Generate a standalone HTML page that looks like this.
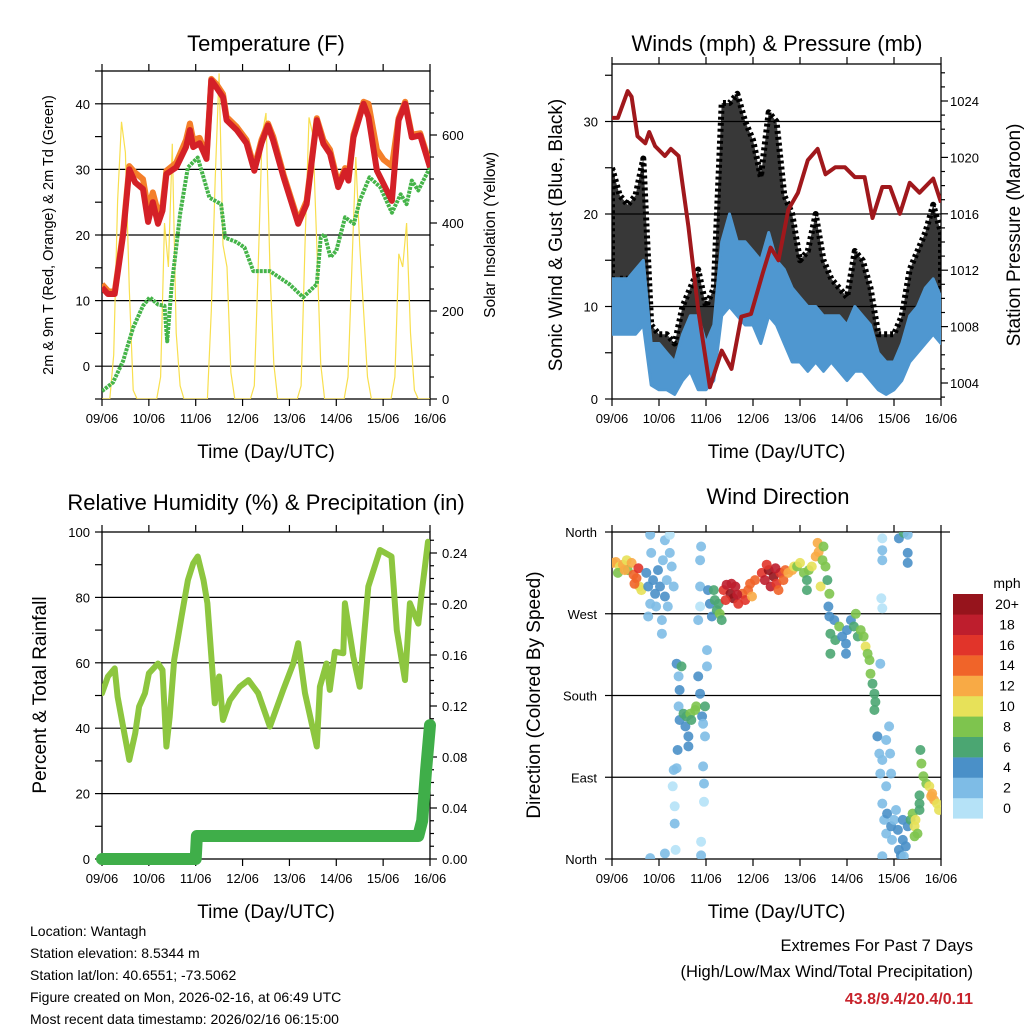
<!DOCTYPE html>
<html><head><meta charset="utf-8">
<style>
html,body{margin:0;padding:0;background:#fff;}
svg{display:block;font-family:"Liberation Sans",Arial,sans-serif;}
</style></head>
<body>
<svg id="chart" width="1024" height="1024" viewBox="0 0 1024 1024" xmlns="http://www.w3.org/2000/svg">
<defs>
<clipPath id="c1"><rect x="102" y="71" width="328" height="328"/></clipPath>
<clipPath id="c2"><rect x="612" y="64" width="329" height="335"/></clipPath>
<clipPath id="c3"><rect x="102" y="532" width="328" height="327"/></clipPath>
<clipPath id="c4"><rect x="612" y="532" width="329" height="327"/></clipPath>
</defs>
</svg>
<script>
// ---------- DATA ----------
const dayLabels = ["09/06","10/06","11/06","12/06","13/06","14/06","15/06","16/06"];
const tempHours = [0,3,6.5,10.8,14,17,21,23.6,26,28.7,31,33,38,43,45,46.7,50,53.5,56,58.6,62,63.8,69,74,78,81.7,85,87.7,93,100.5,104.8,110,113.4,116.8,121,124.5,126.2,128.8,134,136.5,140.8,144.2,148.5,151.9,155.3,158.7,163,168];
const temp2m   = [12,11,11,20,30,28,27,22,25,21.7,23.7,29.3,30.3,33.4,36,33.4,34,31.6,43.6,42.5,41,37.5,36,34,29.8,34,36.7,34.4,28.8,21.7,24.7,37.5,33.9,32.4,27.3,29.8,28.3,34.9,40,38,29.8,27.8,25.2,37.5,40,34.9,35.2,30.3];
const temp9m   = [12.5,11.5,11.3,20.5,30.5,29.5,28.5,24,26.5,23.5,24.5,29.8,31,34.5,37,34.5,34.8,32,43.8,43,41.5,38,36.5,34.5,30.3,34.5,37,35,29.2,22.2,25.2,37.8,34.5,33,27.8,30.2,28.8,35.3,40.3,40,33,31.5,30.5,37.8,40.3,35.3,35.5,30.8];
const dewHours = [0,5.6,10.8,16,21,24.5,28.7,32,33.4,35.6,40,44,49,52,55,61,63,69,73,77.5,86,96,103,110,112,114,117,120,124.5,129,132,137,142.5,148.5,153,156,158.7,162,168];
const dew2m    = [-3.8,-2.5,0.8,5.9,9.2,10.5,9.4,9.2,3.8,12,23.2,30.3,31.8,28.8,25.7,24.7,19.6,18.9,18.1,14.5,14.5,12.5,10.5,12.5,19.6,20.1,16.6,17.6,22.7,21.7,25.2,28.8,27.3,23.4,26.2,24.7,28.3,26.8,30.3];
const solar = [0,0,0,100,450,630,560,250,20,0,0,0,
               0,0,0,50,400,300,580,150,30,0,0,0,
               0,0,0,0,200,500,740,350,300,60,0,0,
               0,0,0,30,300,600,650,300,80,0,0,0,
               0,0,0,30,350,640,600,350,80,0,0,0,
               0,0,0,50,300,550,350,200,50,0,0,0,
               0,0,0,50,330,300,400,150,20,0,0,0,0];
const windHours = [0,4,8,12,16,20,24,28,32,36,40,44,48,52,56,60,64,68,72,76,80,84,88,92,96,100,104,108,112,116,120,124,128,132,136,140,144,148,152,156,160,164,168];
const windLo = [7,7,7,7,8,1.5,1,1,0.5,2,3,1,1,2,9,10,9,8,8,6,9,8,6,4,4,3,4,3,4,3,2,3,3,2,1,0.5,1,2,4,5,6,7,6];
const windHi = [13,13,13,14,15,6,6,5,4,7,9,9,6,8,17,20,17,17,16,15,18,15,14,12,11,10,10,9,9,9,8,10,9,8,5,4,4,6,9,10,12,13,11];
const gustLo = [12,13,13,13,13,3,2,2,1,3,5,3,3,4,13,14,16,14,13,12,15,12,10,8,7,6,7,5,6,5,4,5,5,4,2,1,2,3,6,8,9,10,9];
const gustHi = [25,22,21,22,26,8,7,7,6,10,12,14,10,12,32,32,33,30,28,24,31,30,22,20,15,16,20,15,13,12,11,16,15,12,7,7,7,9,14,16,18,21,18];
const presHours = [0,3,8,10,13,17,19,22,27,30,34,39,44,50,56,61,66,71,77,81,85,90,95,100,105,109,114,119,124,129,133,138,142,147,152,157,164,168];
const pressure  = [1022.8,1022.8,1024.7,1024.3,1021.5,1021,1021.8,1020.8,1020.1,1020.6,1020.1,1015.1,1009.2,1003.7,1006.3,1005,1008.7,1008.9,1011.8,1013.6,1012.7,1016.3,1017.5,1019.8,1020.6,1018.8,1019.3,1019.3,1018.6,1018.6,1015.7,1017.9,1017.9,1016,1018.2,1017.5,1018.5,1016.8];
const rhHours = [0,3,6.5,8,10.8,14,17,19,22,24,28.7,31,33,34.7,37,40.7,44,46.7,49,52,54,57.8,60,62,65.5,70.6,75,80,86,92.8,98,100.5,104,110,111.6,115,116.7,119.3,123.6,124.4,128.7,132,136.4,142.4,148.3,151,155.2,157.7,162,163.7,167];
const rh = [50.7,55.8,58.3,49.6,40.5,30.3,38.4,46.6,50.7,56.8,59.8,57.8,34.4,43.5,60.9,74.1,85.3,90.4,92.5,85.3,78.2,47.6,55.8,42.5,48.6,52.7,54.7,50.7,40.5,51.7,59.8,66,50.7,34.4,52.7,59.8,51.7,63.4,62.9,78.2,61.9,52.7,83.3,94.5,92.5,70,54.7,78.2,72,81.2,97];
const precipHours = [0,48,48.6,162,164,166,168];
const precip = [0,0,0.018,0.018,0.03,0.07,0.105];
const dirHours = [0.5,2,4,5.5,7.5,8,10,11,12.5,13.5,14,15,3,6.5,11.5,
 17.5,18.5,19.5,18.5,20,21,22,22.5,23.5,24.5,25.5,25.5,26,27,28,28.5,29.5,30.5,31.5,27,29.5,19.5,
 33,34,34.5,35.5,34,34.5,36.5,37.5,38,39,40,40.5,42.5,43,44,45,46,46.5,47.5,48.5,48.5,33.5,39,47.5,
 31.5,33,31,32,32,32.5,27,19.5,46.5,47,47,45.5,45.5,
 45.5,45,45,45,44,
 49,50,51,52,52.5,53.5,55,56,54.5,
 57,58.5,60.5,62,63,64.5,66.5,68,69.5,70.5,71.5,73,58,61,64,
 76.5,78,80,81,82.5,84,86,87.5,88.5,90,92,93,83.5,79,85,
 94.5,96,98,99.5,100.5,102,104,105,105.5,106.5,108,109,110,111,110.5,111,99.5,107.5,
 111.5,113.5,114,116,117.5,119.5,120,122,123.5,124.5,125.5,127,128.5,129.5,130.5,111.5,119.5,
 131.5,132,133,134,134.5,134,137,
 138,138,138,137.5,138,146.5,149,151,151,151,
 135.5,136.5,137,138,140,141.5,142,142.5,140,138,139,140,140.5,142.5,143,144,146,146.5,147.5,148.5,149,150,151,148.5,145,138,
 152.5,153.5,154.5,155,156,157,157,154.5,
 157.5,158,159,160.5,162,163.5,164.5,166,167,157,163];
const dirDeg = [326,327,322,324,329,318,326,313,309,320,300,296,315,318,303,
 315,300,281,267,337,307,292,278,318,300,263,248,329,289,307,278,337,322,300,351,357,357,
 215,201,186,212,168,153,160,146,157,135,160,153,164,168,201,182,157,149,168,212,230,120,124,135,
 98,100,80,58,39,10,6,1,102,83,63,19,4,
 344,329,300,278,263,
 296,281,267,296,285,274,270,263,281,
 296,302,292,287,300,281,292,285,296,303,289,307,285,303,291,
 315,307,318,300,311,303,315,307,318,315,318,322,320,324,296,
 322,326,315,307,318,322,333,348,338,300,344,322,307,292,278,267,296,329,
 248,263,241,256,245,237,252,263,256,270,245,252,245,234,226,226,226,
 219,204,193,182,173,164,215,
 353,340,329,287,276,353,359,357,337,326,
 135,116,94,109,131,146,116,94,80,61,43,28,50,36,21,43,32,10,4,21,3,14,36,43,54,3,
 43,50,36,43,28,54,61,25,
 120,105,91,83,80,72,65,61,54,70,69];
const dirSpeed = [13,12,10,12,11,9,12,14,15,16,10,11,8,13,15,
 4,4,3,2,2,4,4,3,4,4,2,3,2,4,3,2,2,2,3,2,1,2,
 4,3,4,6,2,4,6,4,6,5,8,6,8,8,4,4,4,3,6,2,2,4,4,2,
 2,2,1,1,2,1,2,2,2,2,1,0,2,
 2,2,2,1,2,
 4,4,4,6,6,6,9,6,7,
 16,18,20,20,18,16,14,16,15,14,13,14,17,19,18,
 16,18,20,18,20,17,16,14,15,12,12,10,18,16,14,
 9,10,8,7,8,11,12,13,12,10,8,8,7,8,4,4,6,9,
 6,5,6,8,5,4,4,5,7,8,6,8,8,10,8,6,4,
 8,8,7,6,6,6,2,
 1,2,2,0,1,4,6,3,4,4,
 4,3,2,3,2,2,3,2,2,2,3,2,4,4,2,2,4,4,4,4,3,4,5,4,2,2,
 6,9,10,10,8,6,6,8,
 7,8,8,9,10,12,13,11,10,6,12];
const speedColors = ["#b5e2f7","#7ebce6","#4a90c8","#4ba672","#7ec44e","#e7e159","#f8aa45","#f06429","#e1342a","#be1e2d","#96141c"];
const speedLabels = ["0","2","4","6","8","10","12","14","16","18","20+"];

// ---------- SCALES ----------
const X1 = t => 102 + t/168*328;
const X2 = t => 612 + t/168*329;
const yT = v => 399 - (v+5)*6.56;
const ySol = w => 399 - w*0.44;
const yW = v => 399 - v*9.25;
const yP = p => 383 - (p-1004)*14.1;
const yRH = v => 859 - v*3.27;
const yPr = v => 859 - v*1275;
const yD = d => 859 - d*(327/360);

const svg = document.getElementById('chart');
const NS = 'http://www.w3.org/2000/svg';
function mk(tag, attrs, parent){
  const e = document.createElementNS(NS, tag);
  for (const k in attrs) e.setAttribute(k, attrs[k]);
  (parent||svg).appendChild(e);
  return e;
}
function txt(x,y,s,size,anchor,parent,extra){
  const e = mk('text',{x:x,y:y,'font-size':size,'text-anchor':anchor||'middle',fill:'#000'},parent);
  if(extra) for(const k in extra) e.setAttribute(k,extra[k]);
  e.textContent = s;
  return e;
}
function pts(xs,ys,fx,fy){return xs.map((t,i)=>fx(t).toFixed(1)+','+fy(ys[i]).toFixed(1)).join(' ');}

function frame(name,x0,y0,x1,y1,X,label,labelY){
  const g = mk('g',{});
  
  
  mk('rect',{x:x0,y:y0,width:x1-x0,height:y1-y0,fill:'none',stroke:'#000','stroke-width':1.3},g);
  for(let d=0; d<=7; d++){
    const x = X(d*24);
    mk('line',{x1:x,y1:y1,x2:x,y2:y1+7,stroke:'#000','stroke-width':1.2},g);
    mk('line',{x1:x,y1:y0,x2:x,y2:y0-7,stroke:'#000','stroke-width':1.2},g);
    const tl = txt(x,y1+24,dayLabels[d],13,'middle',g);
    
    
  }
  const xt = txt((x0+x1)/2,labelY,'Time (Day/UTC)',19,'middle',g);
  
  
  return g;
}
function grid(x0,x1,ys,g){ys.forEach(y=>mk('line',{x1:x0,y1:y,x2:x1,y2:y,stroke:'#000','stroke-width':1.2},g));}

// ---------- PANEL 1: TEMPERATURE ----------
let t1 = txt(266,51,'Temperature (F)',22);


let g1 = frame('temperature',102,71,430,399,X1,'',458);
grid(102,430,[0,10,20,30,40].map(yT),g1);
for(let v=-5; v<=45; v+=5){ mk('line',{x1:95,y1:yT(v),x2:102,y2:yT(v),stroke:'#000','stroke-width':1.2},g1);}
[0,10,20,30,40].forEach(v=>{const e=txt(90,yT(v)+5,String(v),13,'end',g1);
  
  });
for(let w=0; w<=700; w+=50){ const L = w%200===0?7:4; mk('line',{x1:430,y1:ySol(w),x2:430+L,y2:ySol(w),stroke:'#000','stroke-width':1.2},g1);}
[0,200,400,600].forEach(w=>{const e=txt(442,ySol(w)+5,String(w),13,'start',g1);
  
  });
let yl1 = txt(0,0,'2m & 9m T (Red, Orange) & 2m Td (Green)',14.5,'middle',svg,{transform:'translate(53,235) rotate(-90)'});


let yr1 = txt(0,0,'Solar Insolation (Yellow)',15.5,'middle',svg,{transform:'translate(495,235) rotate(-90)'});


const gp1 = mk('g',{'clip-path':'url(#c1)'});
const solarHours = solar.map((_,i)=>i*2);
let sl = mk('polyline',{points:pts(solarHours,solar,X1,ySol),fill:'none',stroke:'#f8df4e','stroke-width':1.2},gp1);


let dl = mk('polyline',{points:pts(dewHours,dew2m,X1,yT),fill:'none',stroke:'#45b449','stroke-width':4,'stroke-dasharray':'3,1','stroke-linejoin':'round'},gp1);


let ol = mk('polyline',{points:pts(tempHours,temp9m,X1,yT),fill:'none',stroke:'#f47f2a','stroke-width':6,'stroke-linejoin':'round'},gp1);


let rl = mk('polyline',{points:pts(tempHours,temp2m,X1,yT),fill:'none',stroke:'#d42027','stroke-width':6,'stroke-linejoin':'round'},gp1);



// ---------- PANEL 2: WINDS ----------
let t2 = txt(777,51,'Winds (mph) & Pressure (mb)',22);


let g2 = frame('winds',612,64,941,399,X2,'',458);
grid(612,941,[10,20,30].map(yW),g2);
for(let v=0; v<=35; v+=5){ mk('line',{x1:605,y1:yW(v),x2:612,y2:yW(v),stroke:'#000','stroke-width':1.2},g2);}
[0,10,20,30].forEach(v=>{const e=txt(598,yW(v)+5,String(v),13,'end',g2);
  
  });
for(let p=1003; p<=1026; p++){ const L=p%4===0?7:4; mk('line',{x1:941,y1:yP(p),x2:941+L,y2:yP(p),stroke:'#000','stroke-width':1.2},g2);}
[1004,1008,1012,1016,1020,1024].forEach(p=>{const e=txt(950,yP(p)+5,String(p),13,'start',g2);
  
  });
let yl2 = txt(0,0,'Sonic Wind & Gust (Blue, Black)',19,'middle',svg,{transform:'translate(562,235) rotate(-90)'});


let yr2 = txt(0,0,'Station Pressure (Maroon)',19,'middle',svg,{transform:'translate(1020,235) rotate(-90)'});


const gp2 = mk('g',{'clip-path':'url(#c2)'});
function band(lo,hi){
  const up = windHours.map((t,i)=>X2(t).toFixed(1)+','+yW(hi[i]).toFixed(1));
  const dn = windHours.map((t,i)=>X2(t).toFixed(1)+','+yW(lo[i]).toFixed(1)).reverse();
  return up.concat(dn).join(' ');
}
let gb = mk('polygon',{points:band(gustLo,gustHi),fill:'#000','fill-opacity':0.78,stroke:'#000','stroke-width':6,'stroke-dasharray':'3,3','stroke-linejoin':'round'},gp2);


let wb = mk('polygon',{points:band(windLo,windHi),fill:'#4f97d0',stroke:'#4f97d0','stroke-width':3,'stroke-linejoin':'round'},gp2);


let pl = mk('polyline',{points:pts(presHours,pressure,X2,yP),fill:'none',stroke:'#a0181c','stroke-width':4,'stroke-linejoin':'round'},gp2);



// ---------- PANEL 3: RH & PRECIP ----------
let t3 = txt(266,510,'Relative Humidity (%) & Precipitation (in)',22);


let g3 = frame('humidity',102,532,430,859,X1,'',918);
grid(102,430,[20,40,60,80].map(yRH),g3);
for(let v=0; v<=100; v+=10){ mk('line',{x1:95,y1:yRH(v),x2:102,y2:yRH(v),stroke:'#000','stroke-width':1.2},g3);}
[0,20,40,60,80,100].forEach(v=>{const e=txt(90,yRH(v)+5,String(v),13,'end',g3);
  
  });
for(let i=0;i<=25;i++){ const v=i*0.01; const L=i%4===0?7:4; mk('line',{x1:430,y1:yPr(v),x2:430+L,y2:yPr(v),stroke:'#000','stroke-width':1.2},g3);}
[0,0.04,0.08,0.12,0.16,0.20,0.24].forEach(v=>{const e=txt(442,yPr(v)+5,v.toFixed(2),13,'start',g3);
  
  });
let yl3 = txt(0,0,'Percent & Total Rainfall',19,'middle',svg,{transform:'translate(46,695) rotate(-90)'});


const gp3 = mk('g',{});
let prl = mk('polyline',{points:pts(precipHours,precip,X1,yPr),fill:'none',stroke:'#3fae49','stroke-width':12,'stroke-linecap':'round','stroke-linejoin':'round'},gp3);


let rhl = mk('polyline',{points:pts(rhHours,rh,X1,yRH),fill:'none',stroke:'#8dc63f','stroke-width':6,'stroke-linejoin':'round','stroke-linecap':'round','clip-path':'url(#c3)'},gp3);



// ---------- PANEL 4: WIND DIRECTION ----------
let t4 = txt(778,504,'Wind Direction',22);


let g4 = frame('wind-direction',612,532,941,859,X2,'',918);
grid(612,941,[90,180,270].map(yD),g4);
mk('line',{x1:941,y1:532,x2:950,y2:532,stroke:'#000','stroke-width':1.2},g4);
[[360,'North'],[270,'West'],[180,'South'],[90,'East'],[0,'North']].forEach(a=>{
  mk('line',{x1:605,y1:yD(a[0]),x2:612,y2:yD(a[0]),stroke:'#000','stroke-width':1.2},g4);
  const e=txt(597,yD(a[0])+5,a[1],13,'end',g4);
  
  });
let yl4 = txt(0,0,'Direction (Colored By Speed)',19,'middle',svg,{transform:'translate(540,695) rotate(-90)'});


const gp4 = mk('g',{'clip-path':'url(#c4)'});
dirHours.forEach((t,i)=>{
  const c = speedColors[Math.min(10,Math.floor(dirSpeed[i]/2))];
  const p = mk('circle',{cx:X2(t).toFixed(1),cy:yD(dirDeg[i]).toFixed(1),r:5,fill:c,'fill-opacity':0.9},gp4);
  
  
});
const cb = mk('g',{});


let mph = txt(1007,588,'mph',14,'middle',cb);


for(let i=0;i<11;i++){
  const y = 594 + (10-i)*20.4;
  const r = mk('rect',{x:953,y:y,width:30,height:20.6,fill:speedColors[i]},cb);
  
  
  const l = txt(1007,y+15,speedLabels[i],14,'middle',cb);
  
  
}

// ---------- FOOTER ----------
const info = ["Location: Wantagh","Station elevation: 8.5344 m","Station lat/lon: 40.6551; -73.5062","Figure created on Mon, 2026-02-16, at 06:49 UTC","Most recent data timestamp: 2026/02/16 06:15:00"];
info.forEach((s,i)=>{const e=txt(30,936+i*22,s,14,'start');
  
  });
let ex1 = txt(973,951,'Extremes For Past 7 Days',16.5,'end');


let ex2 = txt(973,977,'(High/Low/Max Wind/Total Precipitation)',16.5,'end');


let ex3 = txt(973,1004,'43.8/9.4/20.4/0.11',16,'end',svg,{fill:'#c8232c','font-weight':'bold'});


</script>
</body></html>
